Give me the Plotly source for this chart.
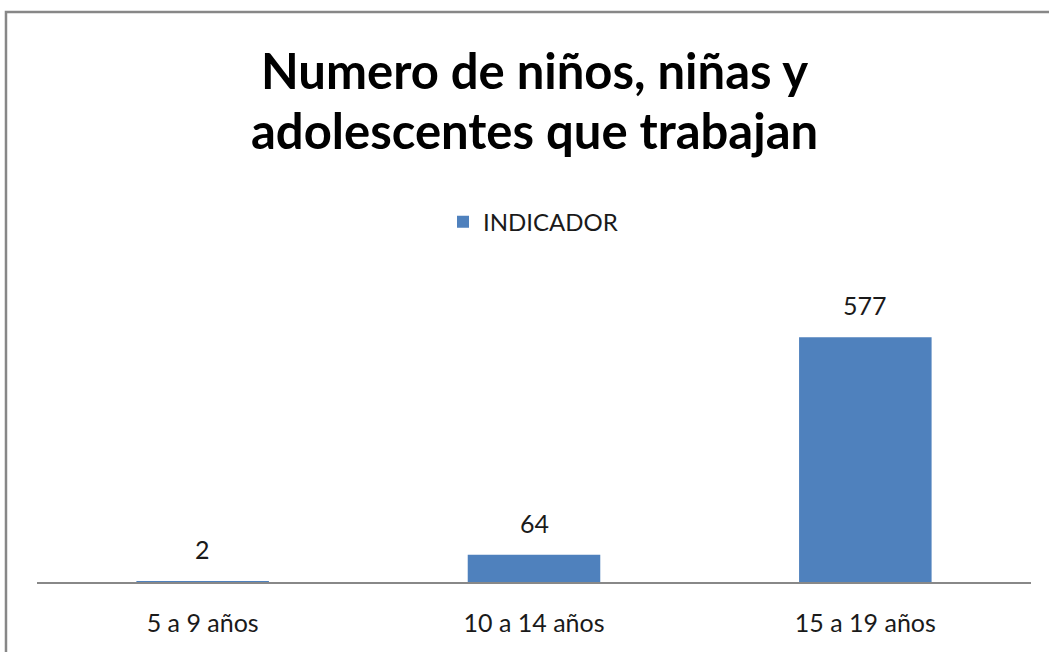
import plotly.graph_objects as go

categories = ["5 a 9 años", "10 a 14 años", "15 a 19 años"]
values = [2, 64, 577]
series_name = "INDICADOR"
title_lines = ["Numero de niños, niñas y", "adolescentes que trabajan"]

BAR = "#4F81BD"
FONT = "Lato"
TXT = "#1a1a1a"

fig = go.Figure()
fig.add_trace(go.Bar(x=categories, y=values, name=series_name,
                     marker=dict(color=BAR, line=dict(width=0)),
                     showlegend=True))

for c, v in zip(categories, values):
    fig.add_annotation(x=c, y=v, text=str(v), showarrow=False,
                       yanchor="bottom", yshift=15,
                       font=dict(family=FONT, size=25, color=TXT))

for line, ypos in zip(title_lines, [1.724, 1.522]):
    fig.add_annotation(xref="paper", yref="paper", x=0.501, y=ypos,
                       text="<b>" + line + "</b>",
                       showarrow=False, xanchor="center", yanchor="middle",
                       font=dict(family=FONT, size=49, color="black"))

# outer frame (partially visible, as in the reference)
fig.add_shape(type="rect", xref="paper", yref="paper",
              x0=-0.0312, y0=-0.5, x1=1.2, y1=1.919,
              line=dict(color="#878787", width=2.5), layer="below")

fig.update_layout(
    width=1049, height=652,
    margin=dict(l=37, r=18, t=285, b=70),
    paper_bgcolor="white", plot_bgcolor="white",
    bargap=0.6,
    font=dict(family=FONT, size=25, color=TXT),
    legend=dict(orientation="h", x=0.499, xanchor="center",
                y=1.212, yanchor="middle",
                font=dict(family=FONT, size=24, color=TXT),
                itemwidth=30),
    xaxis=dict(showline=True, linecolor="#888888", linewidth=1.5,
               ticks="", showgrid=False, ticklabelstandoff=18,
               tickfont=dict(family=FONT, size=25, color=TXT)),
    yaxis=dict(range=[0, 700], visible=False, showgrid=False),
)

fig.write_html("out.html",
               config={"displayModeBar": False},
               post_script="document.body.style.margin='0';")
